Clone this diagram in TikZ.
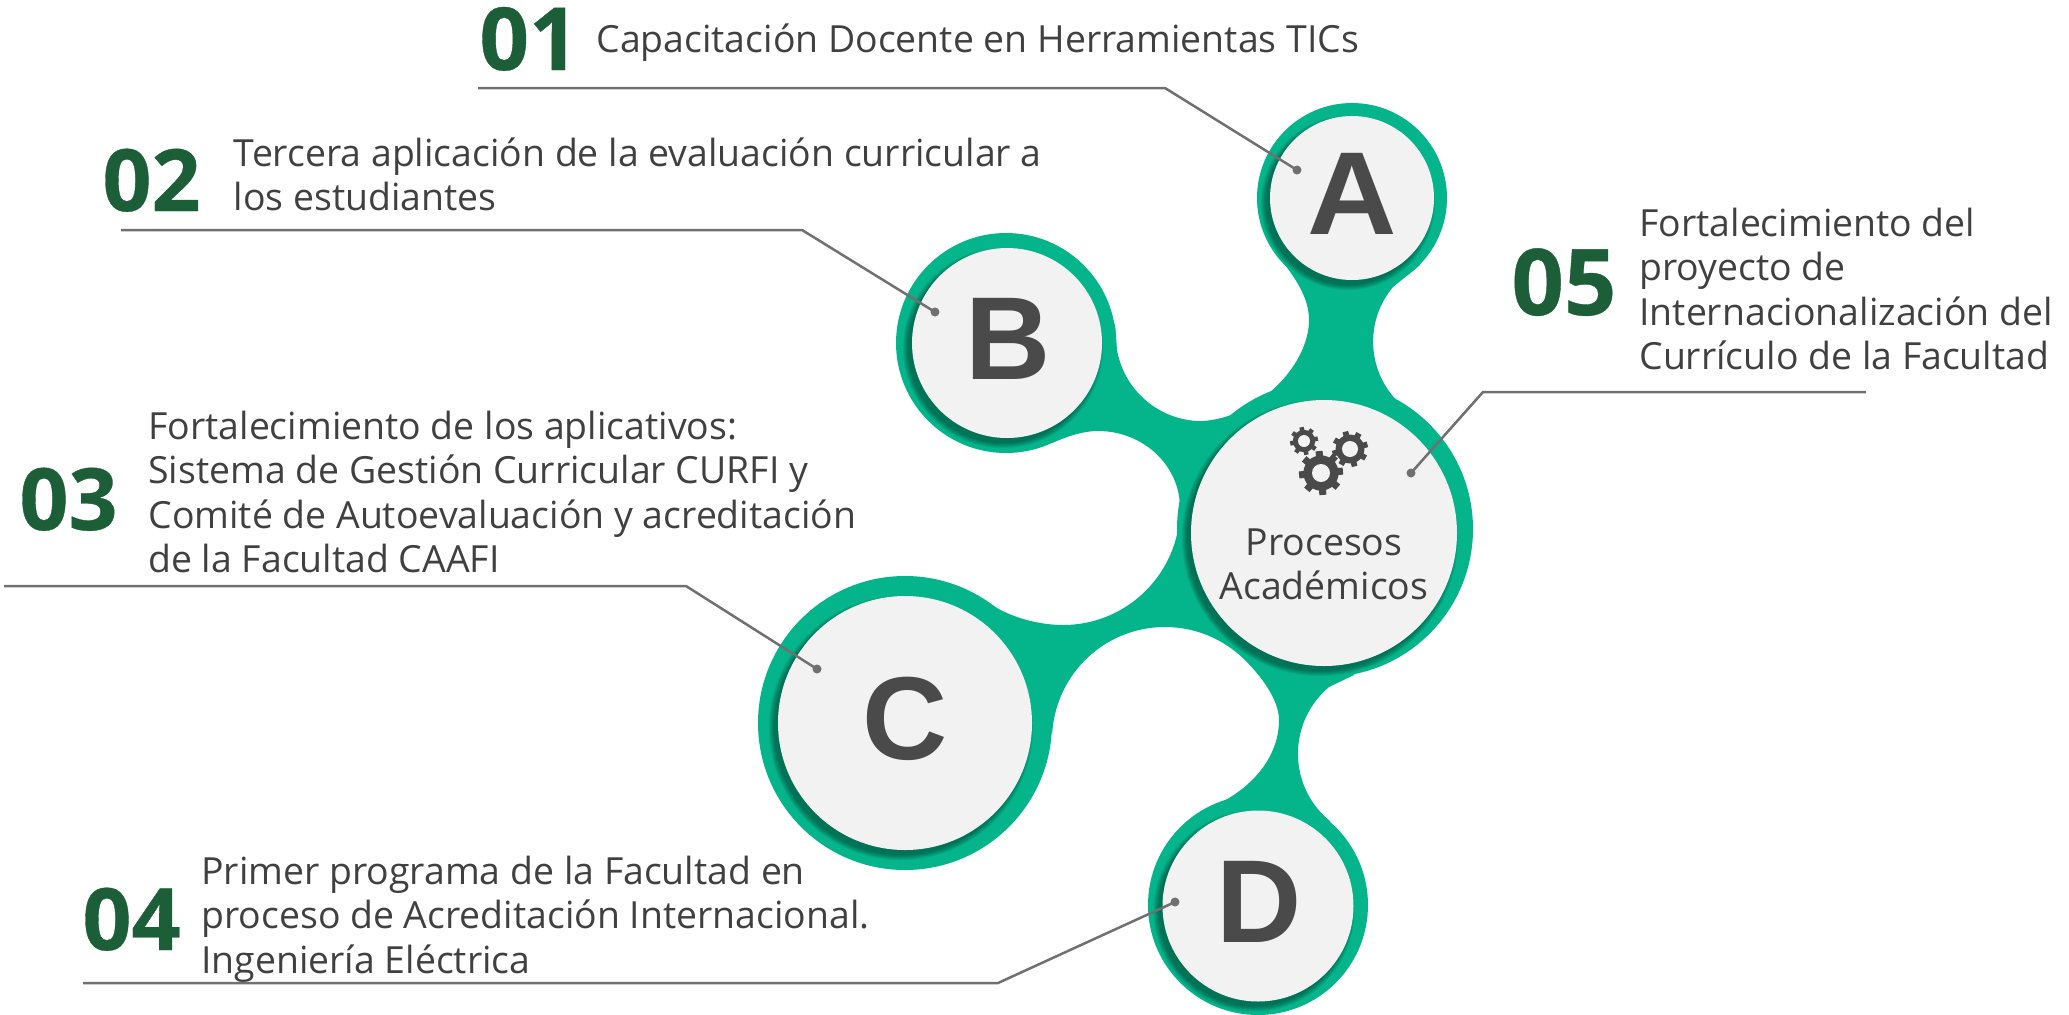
\documentclass[tikz,border=0pt]{standalone}
\usepackage{graphicx}
\usepackage{fontspec}
\setmainfont{Open Sans}
\newfontfamily\letf{Liberation Sans}
\newfontfamily\numf[BoldFeatures={FakeBold=0.4}]{Open Sans}
\definecolor{blob}{HTML}{04B48A}
\definecolor{disc}{HTML}{F2F2F2}
\definecolor{ink}{HTML}{404040}
\definecolor{numc}{HTML}{1B5E37}
\definecolor{lett}{HTML}{4A4A4A}
\definecolor{leader}{HTML}{707070}
\tikzset{
  ring/.style={circle,fill=blob,draw=none,inner sep=0pt},
  innerdisc/.style={circle,fill=disc,draw=none,inner sep=0pt},
  bigletter/.style={inner sep=0pt,text=lett,font=\letf\bfseries\fontsize{59}{59}\selectfont},
  num/.style={inner sep=0pt,anchor=base west,text=numc,font=\numf\bfseries\fontsize{#1}{#1}\selectfont},
  body/.style={inner sep=0pt,anchor=north west,align=left,text=ink,font=\fontsize{18.7}{22.2}\selectfont},
  leaderline/.style={draw=leader,line width=1.25pt},
  dot/.style={circle,fill=leader,inner sep=0pt,minimum size=4.5pt},
}
\newcommand{\softshadow}[3]{%
  \foreach \i in {0,...,5}{
    \fill[black,opacity=.07] (#1-4,#2+5) circle[radius=(#3+\i)*0.5pt];
  }%
}
\newcommand{\mygear}[5]{%
  \foreach \a in {0,45,...,315}{
    \fill[lett,rotate around={\a+#5:(#1,#2)}] (#1-#3*.16,#2) rectangle (#1+#3*.16,#2-#3);
  }
  \fill[lett] (#1,#2) circle[radius=#3*.40pt];
  \fill[disc] (#1,#2) circle[radius=#4*.5pt];
}
\begin{document}
\begin{tikzpicture}[x=0.5pt,y=-0.5pt]
\useasboundingbox (0,0) rectangle (2069,1014);
% green body
\fill[blob]
 (1420,265) -- (1393,287) arc[start angle=140,end angle=226,radius=42.5pt] -- (1428,427)
 -- (1354,675) -- (1329,687) arc[start angle=130,end angle=231,radius=43.5pt] -- (1329,823)
 -- (1220,803) .. controls (1255,785) and (1279,755) .. (1279,720)
 .. controls (1279,700) and (1261.5,676) .. (1243.5,658.7)
 arc[start angle=46,end angle=177,radius=56.5pt]
 -- (992,605) .. controls (1012,618) and (1040,625) .. (1063,625)
 arc[start angle=270,end angle=360,radius=58.5pt]
 arc[start angle=0,end angle=90,x radius=41pt,y radius=38.5pt]
 .. controls (1082,431) and (1066,437) .. (1052,443)
 -- (1115,323) -- (1117,350)
 arc[start angle=190,end angle=270,radius=43pt]
 .. controls (1258,418) and (1309,365) .. (1309,320)
 .. controls (1309,298) and (1296,278) .. (1277,255)
 -- cycle;
% outer rings
\node[ring,minimum size=95pt] (ringA) at (1352,198) {};
\node[ring,minimum size=110pt] (ringB) at (1006,343) {};
\node[ring,minimum size=147pt] (ringC) at (905,723) {};
\node[ring,minimum size=110pt] (ringD) at (1258,905) {};
\node[ring,minimum size=148pt] (ringM) at (1325,529) {};
% shadows
\softshadow{1352}{198}{82}
\softshadow{1007}{343}{95}
\softshadow{905}{723}{127}
\softshadow{1258}{906}{95.5}
\softshadow{1324}{533}{133}
% inner discs
\node[innerdisc,minimum size=82pt] (discA) at (1352,198) {};
\node[innerdisc,minimum size=95pt] (discB) at (1007,343) {};
\node[innerdisc,minimum size=127pt] (discC) at (905,723) {};
\node[innerdisc,minimum size=95.5pt] (discD) at (1258,906) {};
\node[innerdisc,minimum size=133pt] (discM) at (1324,533) {};
% letters
\node[bigletter] (letA) at (1352,194) {\scalebox{1.05}[1]{A}};
\node[bigletter] (letB) at (1008,339) {B};
\node[bigletter] (letC) at (905,719) {C};
\node[bigletter] (letD) at (1259,902) {D};
% gears
\mygear{1304}{441}{14}{6}{10}
\mygear{1350}{449}{18}{8}{15}
\mygear{1321}{473}{22}{9}{5}
% centre label
\node[inner sep=0pt,align=center,text=ink,font=\fontsize{18.7}{22.2}\selectfont,anchor=north] (mainlabel) at (1324,528) {Procesos\\Académicos};
% numbers
\node[num=43.5] (n1) at (479,70) {01};
\node[num=43] (n2) at (102,211) {02};
\node[num=43] (n3) at (19,530) {03};
\node[num=43] (n4) at (82,950) {04};
\node[num=46] (n5) at (1511,315) {05};
% texts
\node[body] (t1) at (596,23.5) {Capacitación Docente en Herramientas TICs};
\node[body] (t2) at (233.5,137.5) {Tercera aplicación de la evaluación curricular a\\los estudiantes};
\node[body] (t3) at (148,410.5) {Fortalecimiento de los aplicativos:\\Sistema de Gestión Curricular CURFI y\\Comité de Autoevaluación y acreditación\\de la Facultad CAAFI};
\node[body] (t4) at (201,855.5) {Primer programa de la Facultad en\\proceso de Acreditación Internacional.\\Ingeniería Eléctrica};
\node[body] (t5) at (1639,207.5) {Fortalecimiento del\\proyecto de\\Internacionalización del\\Currículo de la Facultad};
% leaders
\node[dot] (d1) at (1297,170) {};
\node[dot] (d2) at (935,312) {};
\node[dot] (d3) at (817,669) {};
\node[dot] (d4) at (1175,902) {};
\node[dot] (d5) at (1411,473) {};
\coordinate (s1) at (478,88); \coordinate (k1) at (1165,88);
\coordinate (s2) at (121,230); \coordinate (k2) at (802,230);
\coordinate (s3) at (4,586); \coordinate (k3) at (686,586);
\coordinate (s4) at (83,983); \coordinate (k4) at (998,983);
\coordinate (s5) at (1866,392); \coordinate (k5) at (1483,392);
\draw[leaderline] (s1) -- (k1) -- (d1.center);
\draw[leaderline] (s2) -- (k2) -- (d2.center);
\draw[leaderline] (s3) -- (k3) -- (d3.center);
\draw[leaderline] (s4) -- (k4) -- (d4.center);
\draw[leaderline] (s5) -- (k5) -- (d5.center);
\end{tikzpicture}
\end{document}
